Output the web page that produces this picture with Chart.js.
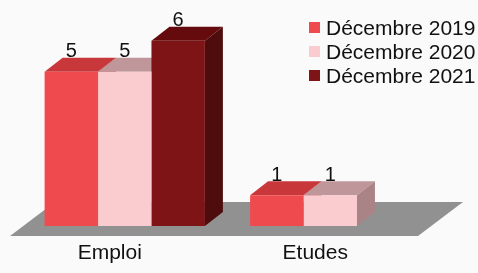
<!DOCTYPE html>
<html lang="fr">
<head>
    <meta charset="UTF-8">
    <title>Emploi / Etudes</title>
    <script src="https://cdn.jsdelivr.net/npm/chart.js"></script>
    <style>
        html, body { margin: 0; padding: 0; background: #fafafa; }
        #box { width: 478px; height: 273px; position: relative; }
    </style>
</head>
<body>
<div id="box"><canvas id="chart"></canvas></div>
<script>
    // données
    const categories = ['Emploi', 'Etudes'];
    const seriesLabels = ['Décembre 2019', 'Décembre 2020', 'Décembre 2021'];
    const dec2019 = [5, 1];
    const dec2020 = [5, 1];
    const dec2021 = [6, 0];

    // couleurs : face avant, dessus, côté
    const frontColors = ['#ef4b4f', '#facccf', '#7e1416'];
    const topColors = ['#c8373a', '#bf979a', '#650b0d'];
    const sideColors = ['#b42d30', '#a98386', '#4e0c0c'];

    const DX = 18, DY = 14; // profondeur 3D

    // sol gris + dessus et côtés des barres, dessinés derrière les faces avant
    const bars3d = {
        id: 'bars3d',
        beforeDatasetsDraw(chart) {
            const ctx = chart.ctx;
            const a = chart.chartArea;
            ctx.save();
            ctx.fillStyle = '#919191';
            ctx.beginPath();
            ctx.moveTo(a.left - 12, a.bottom + 10);
            ctx.lineTo(a.right - 15, a.bottom + 10);
            ctx.lineTo(a.right + 30, a.bottom - 24);
            ctx.lineTo(a.left + 33, a.bottom - 24);
            ctx.closePath();
            ctx.fill();

            chart.data.datasets.forEach((ds, i) => {
                const meta = chart.getDatasetMeta(i);
                meta.data.forEach((bar, j) => {
                    if (!ds.data[j]) return;
                    const p = bar.getProps(['x', 'y', 'base', 'width'], true);
                    const x0 = p.x - p.width / 2, x1 = p.x + p.width / 2;
                    // dessus
                    ctx.fillStyle = topColors[i];
                    ctx.beginPath();
                    ctx.moveTo(x0, p.y);
                    ctx.lineTo(x1, p.y);
                    ctx.lineTo(x1 + DX, p.y - DY);
                    ctx.lineTo(x0 + DX, p.y - DY);
                    ctx.closePath();
                    ctx.fill();
                    // côté
                    ctx.fillStyle = sideColors[i];
                    ctx.beginPath();
                    ctx.moveTo(x1, p.y);
                    ctx.lineTo(x1 + DX, p.y - DY);
                    ctx.lineTo(x1 + DX, p.base - DY);
                    ctx.lineTo(x1, p.base);
                    ctx.closePath();
                    ctx.fill();
                });
            });
            ctx.restore();
        },
        afterDatasetsDraw(chart) {
            const ctx = chart.ctx;
            ctx.save();
            ctx.font = '20px "Liberation Sans", Arial, sans-serif';
            ctx.fillStyle = '#111';
            ctx.textAlign = 'center';
            ctx.textBaseline = 'alphabetic';
            chart.data.datasets.forEach((ds, i) => {
                chart.getDatasetMeta(i).data.forEach((bar, j) => {
                    if (!ds.data[j]) return;
                    ctx.fillText(String(ds.data[j]), bar.x, bar.y - DY - 0.5);
                });
            });
            ctx.restore();
        },
        afterDraw(chart) {
            // légende en haut à droite, par-dessus la zone du graphique
            const ctx = chart.ctx;
            ctx.save();
            ctx.font = '21px "Liberation Sans", Arial, sans-serif';
            ctx.textBaseline = 'middle';
            ctx.textAlign = 'left';
            chart.data.datasets.forEach((ds, i) => {
                const y = 28 + i * 24;
                ctx.fillStyle = ds.backgroundColor;
                ctx.fillRect(309, y - 6, 11, 11);
                ctx.fillStyle = '#111';
                ctx.fillText(ds.label, 326, y + 1);
            });
            ctx.restore();
        }
    };

    const chart = new Chart(document.getElementById('chart'), {
        type: 'bar',
        data: {
            labels: categories,
            datasets: [dec2019, dec2020, dec2021].map((d, i) => ({
                label: seriesLabels[i],
                data: d,
                backgroundColor: frontColors[i],
                borderWidth: 0,
                barPercentage: 1,
                categoryPercentage: 0.78
            }))
        },
        options: {
            responsive: true,
            maintainAspectRatio: false,
            animation: false,
            layout: { padding: { left: 22, right: 45, top: 10, bottom: 8 } },
            plugins: {
                legend: { display: false },
                tooltip: { enabled: false }
            },
            scales: {
                x: {
                    grid: { display: false, drawTicks: false },
                    border: { display: false },
                    afterFit: (scale) => { scale.height = 39; },
                    ticks: {
                        color: '#111',
                        padding: 15,
                        labelOffset: -15,
                        font: { family: '"Liberation Sans", Arial, sans-serif', size: 21 }
                    }
                },
                y: {
                    display: false,
                    min: 0,
                    max: 7
                }
            }
        },
        plugins: [bars3d]
    });
</script>
</body>
</html>
